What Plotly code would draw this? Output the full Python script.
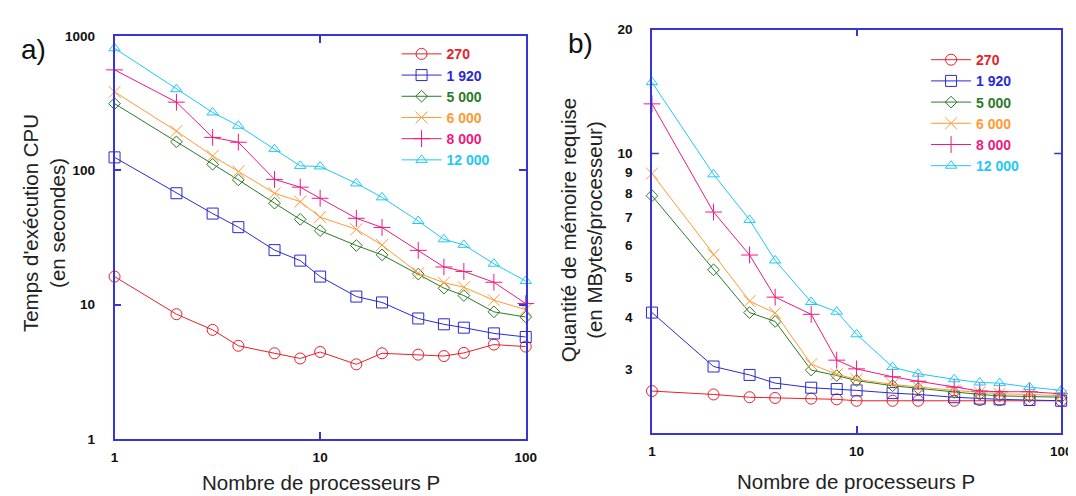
import plotly.graph_objects as go

# ---------------- data ----------------
procs = [1, 2, 3, 4, 6, 8, 10, 15, 20, 30, 40, 50, 70, 100]
series_names = ["270", "1 920", "5 000", "6 000", "8 000", "12 000"]

# a) CPU time (seconds)
cpu_270 = [16.2, 8.5, 6.5, 4.95, 4.35, 3.98, 4.45, 3.6, 4.35, 4.25, 4.15, 4.38, 5.05, 4.88]
cpu_1920 = [125, 67.6, 47.7, 37.8, 25.5, 21.3, 16.2, 11.5, 10.4, 7.9, 7.15, 6.75, 6.12, 5.75]
cpu_5000 = [314, 163, 111, 85, 57, 43.2, 35.6, 27.6, 23.5, 16.9, 13.3, 11.7, 8.85, 8.1]
cpu_6000 = [384, 196, 128, 98, 67.6, 58.5, 44.9, 36.4, 27.8, 17.2, 14.6, 13.5, 10.8, 9.2]
cpu_8000 = [560, 322, 176, 162, 85.7, 75, 62, 44, 37.6, 25.4, 19.1, 17.7, 14.7, 10.2]
cpu_12000 = [811, 402, 270, 215, 144, 108, 107, 80, 63, 42, 30.7, 27.9, 20.2, 15.0]

# b) memory (MBytes / processor)
mem_270 = [2.65, 2.60, 2.56, 2.55, 2.54, 2.53, 2.51, 2.51, 2.51, 2.51, 2.52, 2.52, 2.52, 2.51]
mem_1920 = [4.11, 3.04, 2.90, 2.77, 2.70, 2.68, 2.66, 2.62, 2.60, 2.56, 2.54, 2.53, 2.52, 2.51]
mem_5000 = [7.9, 5.22, 4.11, 3.91, 2.98, 2.89, 2.81, 2.73, 2.69, 2.63, 2.60, 2.58, 2.57, 2.56]
mem_6000 = [8.94, 5.68, 4.38, 4.10, 3.08, 2.91, 2.83, 2.75, 2.71, 2.66, 2.63, 2.61, 2.60, 2.58]
mem_8000 = [13.2, 7.21, 5.67, 4.48, 4.07, 3.15, 3.0, 2.87, 2.80, 2.71, 2.65, 2.64, 2.64, 2.61]
mem_12000 = [14.9, 8.9, 6.9, 5.50, 4.36, 4.13, 3.64, 3.03, 2.92, 2.83, 2.78, 2.77, 2.71, 2.66]

cpu_series = [cpu_270, cpu_1920, cpu_5000, cpu_6000, cpu_8000, cpu_12000]
mem_series = [mem_270, mem_1920, mem_5000, mem_6000, mem_8000, mem_12000]

x_ticks = [1, 10, 100]
cpu_ticks = [1, 10, 100, 1000]
mem_ticks = [3, 4, 5, 6, 7, 8, 9, 10, 20]
mem_major = [10]

# ---------------- style ----------------
colors = ["#e8202a", "#2a2ad2", "#2a7a2a", "#ff9a35", "#ee1a7e", "#1ec8f8"]
symbols = ["circle-open", "square-open", "diamond-open", "x-thin-open",
           "cross-thin-open", "triangle-up-open"]
sizes = [11, 11, 9, 12, 12, 10]
AX = "#3535d8"
FONT = "Liberation Sans, Arial, sans-serif"

fig = go.Figure()

for i, name in enumerate(series_names):
    label = f'<span style="color:{colors[i]}"><b>{name}</b></span>'
    fig.add_trace(go.Scatter(
        x=procs, y=cpu_series[i], mode="lines+markers", name=label,
        line=dict(color=colors[i], width=1),
        marker=dict(symbol=symbols[i], size=sizes[i], color=colors[i],
                    line=dict(color=colors[i], width=1)),
        xaxis="x", yaxis="y", legend="legend", cliponaxis=False))
for i, name in enumerate(series_names):
    label = f'<span style="color:{colors[i]}"><b>{name}</b></span>'
    fig.add_trace(go.Scatter(
        x=procs, y=mem_series[i], mode="lines+markers", name=label,
        line=dict(color=colors[i], width=1),
        marker=dict(symbol=symbols[i], size=sizes[i], color=colors[i],
                    line=dict(color=colors[i], width=1)),
        xaxis="x2", yaxis="y2", legend="legend2", cliponaxis=False))

W, H = 1076, 496
tickfont = dict(family=FONT, size=13.5, color="#111111", weight="bold")

common_x = dict(type="log", showline=True, linecolor=AX, linewidth=1.5,
                mirror="ticks", ticks="inside", ticklen=7, tickwidth=1.5,
                tickcolor=AX, showgrid=False, zeroline=False,
                tickvals=x_ticks, ticktext=[str(v) for v in x_ticks],
                tickfont=tickfont, ticklabelstandoff=5, range=[0, 2])

fig.update_layout(
    width=W, height=H, margin=dict(l=0, r=0, t=0, b=0),
    paper_bgcolor="white", plot_bgcolor="white",
    font=dict(family=FONT, color="#222222"),
    xaxis=dict(domain=[104 / W, 521 / W], anchor="y", **common_x),
    yaxis=dict(domain=[1 - 437.3 / H, 1 - 21.7 / H], anchor="x", type="log",
               range=[0, 3], showline=True, linecolor=AX, linewidth=1.5,
               mirror="ticks", ticks="inside", ticklen=7, tickwidth=1.5,
               tickcolor=AX, showgrid=False, zeroline=False,
               tickvals=cpu_ticks, ticktext=[str(v) for v in cpu_ticks],
               tickfont=tickfont, ticklabelstandoff=15),
    xaxis2=dict(domain=[649 / W, 1064 / W], anchor="y2", **common_x),
    yaxis2=dict(domain=[1 - 430.7 / H, 1 - 15 / H], anchor="x2", type="log",
                range=[0.3222, 1.30103], showline=True, linecolor=AX,
                linewidth=1.5, mirror=True, ticks="", showgrid=False,
                zeroline=False, tickvals=mem_ticks,
                ticktext=[str(v) for v in mem_ticks],
                tickfont=tickfont, ticklabelstandoff=15),
    legend=dict(x=390 / W, y=1 - 24 / H, xanchor="left", yanchor="top",
                bgcolor="rgba(0,0,0,0)", borderwidth=0, itemwidth=40,
                font=dict(family=FONT, size=14), tracegroupgap=0),
    legend2=dict(x=927 / W, y=1 - 30 / H, xanchor="left", yanchor="top",
                 bgcolor="rgba(0,0,0,0)", borderwidth=0, itemwidth=40,
                 font=dict(family=FONT, size=14), tracegroupgap=0),
    showlegend=True,
)

# decade tick marks on the right-panel memory axis (both sides)
for v in mem_major:
    for x0, x1 in [(0, 7 / 415), (1 - 7 / 415, 1)]:
        fig.add_shape(type="line", xref="x2 domain", yref="y2",
                      x0=x0, x1=x1, y0=v, y1=v,
                      line=dict(color=AX, width=1.5))

title_font = dict(family=FONT, size=20.5, color="#222222")
ann = [
    dict(text="a)", x=22 / W, y=1 - 36 / H, font=dict(family=FONT, size=28, color="#111111")),
    dict(text="b)", x=577 / W, y=1 - 29 / H, font=dict(family=FONT, size=28, color="#111111")),
    dict(text="Nombre de processeurs P", x=313 / W, y=1 - 482 / H, font=title_font),
    dict(text="Nombre de processeurs P", x=856 / W, y=1 - 481 / H, font=title_font),
    dict(text="Temps d'exécution CPU<br>(en secondes)", x=33 / W, y=1 - 215 / H,
         textangle=-90, font=title_font),
    dict(text="Quantité de mémoire requise<br>(en MBytes/processeur)", x=578 / W,
         y=1 - 222 / H, textangle=-90, font=title_font),
]
for a in ann:
    fig.add_annotation(xref="paper", yref="paper", showarrow=False,
                       xanchor="center", yanchor="middle", **a)

fig.write_html("out.html")
